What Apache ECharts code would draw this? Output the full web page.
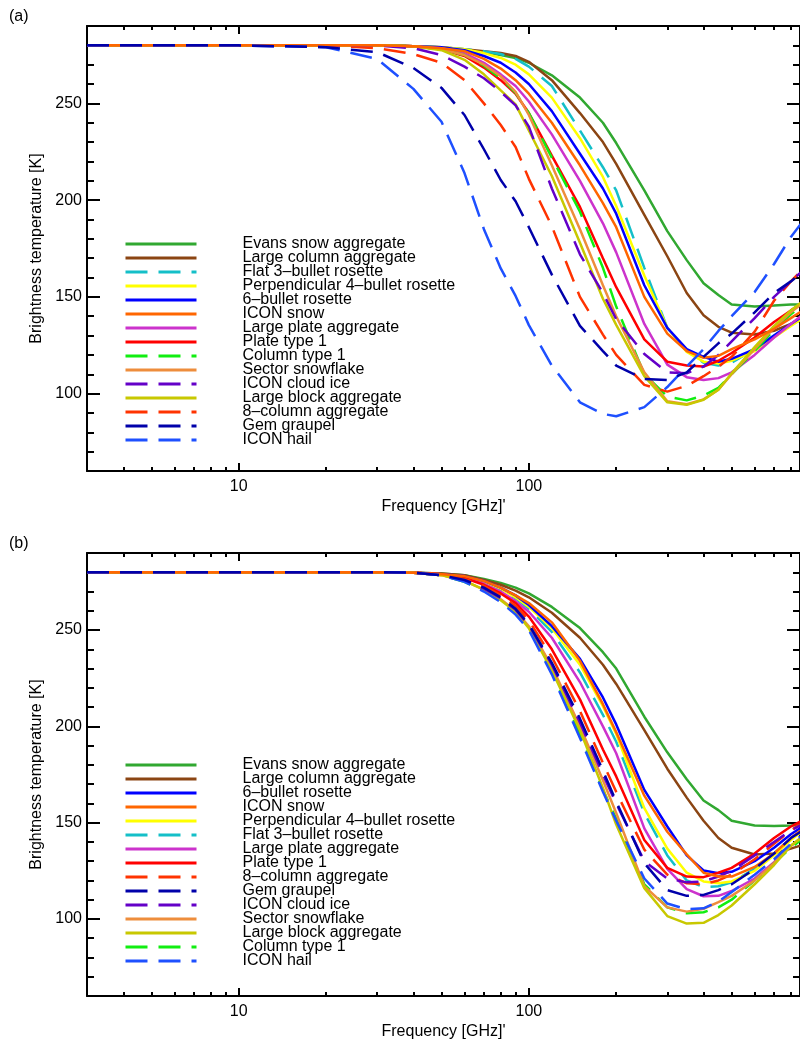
<!DOCTYPE html>
<html>
<head>
<meta charset="utf-8">
<script src="https://cdn.jsdelivr.net/npm/echarts@6/dist/echarts.min.js"></script>
<style>html,body{margin:0;padding:0;background:#fff}#c{width:800px;height:1045px}</style>
</head>
<body>
<div id="c"></div>
<script>
// ---- data ----
const freq = [3, 10, 20, 30, 40, 50, 60, 70, 80, 90, 100, 120, 150, 180, 200, 250, 300, 350, 400, 450, 500, 600, 700, 800, 900];

// panel (a)
const a_evans       = [280,280,280,280,279.5,279,277.5,276.5,275,273.5,271,264.5,253,240,229.5,205,184,169,157,151,146,145,145.5,146,146];
const a_largeColumn = [280,280,280,280,279.5,279,278,277,276,274.5,271.5,262,245,230,218.7,192.4,171,152,140.5,134.5,131.5,130.5,132.5,136,139];
const a_flat3       = [280,280,280,280,279.5,279,278,277,275.5,273,269,259,236,217,205,165,134,122,116,114.5,116,123,130,136,141];
const a_perp4       = [280,280,280,280,279.5,279,278,276,273.5,270,265,253,232,212,197,161,134,121.5,116.5,115.5,117,122,129,135,140];
const a_bullet6     = [280,280,280,280,279.5,279,277.5,274.5,271,266,260,246,224,206,193,156,134,123,119,116.5,118,123,130,136,141];
const a_iconSnow    = [280,280,280,280,279.5,278.5,277,273,268,262,255,240,218,198.5,186,150,131,122,118.5,119.5,123,128,133.5,139,144];
const a_largePlate  = [280,280,280,280,279.5,278.5,276,271,265,259,251,234,210,188,173,136,115,108.5,107,108,111,120,129,136,142];
const a_plate1      = [280,280,280,280,279.5,278,274.5,268.5,262,255,245,223,196.5,170,155,128,116.5,114.5,114,117,121,129,137,143,148];
const a_column1     = [280,280,280,280,279.5,278,275,269.5,263,255.5,245,222,194,165,145,110,98.5,96.5,99,103,110,122,133,141,147];
const a_sector      = [280,280,280,280,279.5,278,275,270,264,256,244,218,185,156,140,111,96,94.5,97,102,110,123,134,142,148];
const a_largeBlock  = [280,280,280,280,279.5,277.5,272.5,265,256.7,249.5,236,212.5,178,149,135.5,109,95.5,94.2,96.8,102,110.5,124,135,143,149];
const a_cloudIce    = [280,280,280,280,278.5,275,269,263,256,249,238,206,172,152,138.5,120.5,111,110.5,114,120,127,139,150,158,165];
const a_col8        = [280,280,280,278.5,275.5,271,262,250,238.8,227.5,211,186.5,150,130.5,120,104.5,101,104,109,114,119,132,148,158,166];
const a_graupel     = [280,280,279,276.5,268.3,258,244,226.3,210.4,199.4,186,161.5,135,122,114.5,107.5,107,111,119,126,131,142,152,158,164];
const a_hail        = [280,280,279,273,257.5,240.5,214,185,164.7,150.5,135.4,114.5,95.5,89.5,88.3,93,103.4,114,123,132.4,140,152.5,167,181,191];

// panel (b)
const b_evans       = [280,280,280,280,279.8,279.3,278.5,276.5,274.5,272,269,262,251,238.5,230,205,186.5,172.5,161.5,156.5,151,148.5,148.2,148.5,149];
const b_largeColumn = [280,280,280,280,279.8,279.3,278.5,276,273.5,270.5,267,259,246,232,222,198,178,163,151,142,137,133.5,134,136.5,139];
const b_bullet6     = [280,280,280,280,279.8,279,278,275.5,272,268,263,252,235,215,201,167,148,133,125.2,123.8,124.5,130,137,144,149];
const b_iconSnow    = [280,280,280,280,279.8,279,278,275.5,272,268,264,254,234,211.5,197,164,145.3,133.5,124,122,122,127,134,142,148];
const b_perp4       = [280,280,280,280,279.8,279,277.5,275,271.5,267,262,251,232,210.5,196,157.5,136.5,124,119.5,118.5,119.5,125,133,141,147];
const b_flat3       = [280,280,280,280,279.8,279,277.5,274.5,271,266.5,261,249,228,206,192,155,133,120,116.5,117,119,126,134,142,147];
const b_largePlate  = [280,280,280,280,279.8,279,277,274,270,265,259.5,246,223,200,186,147,126,115.5,111.8,112,114.5,121,129.5,138,143];
const b_plate1      = [280,280,280,280,279.8,279,277,273.5,269,264,257,240,214,188,174,141,126.5,122,121.7,124,126.5,134,142,148,152];
const b_col8        = [280,280,280,280,279.8,279,276.5,273,268,262.5,255,236,208,181,166,136,123,118.5,118,120,123,131,139,146,151];
const b_graupel     = [280,280,280,280,279.8,278.5,276,272,267,261,253,233,204,177,161,129,115,112,112.5,115,118,126,134,142,147];
const b_cloudIce    = [280,280,280,280,279.8,278.5,275.5,271.5,266.5,260.5,252.5,232,202,175,160,130,121,119,119.5,122,125,133,140,146,150];
const b_sector      = [280,280,280,280,279.8,278.5,275.5,271,266,260,252,231,200,172,155,117,106,103.8,105.3,108.7,112,120,129,138,144];
const b_largeBlock  = [280,280,280,280,279.8,278.5,275.5,271,265.5,259.5,251,229,198,168,149,116,101.5,97.6,98,102,107,118,128,138,144];
const b_column1     = [280,280,280,280,279.8,278.5,275,270.5,265,259,251,228,196,167,152,118,106,103,103.5,106,110,120,129,137,143];
const b_hail        = [280,280,280,280,279.8,278.5,275,270,264.5,258,250,227,194,166,151,121,108,105,105.5,109,114,123,131,139,145];

// names
const N_EVANS = 'Evans snow aggregate', N_LCOL = 'Large column aggregate', N_FLAT3 = 'Flat 3\u2013bullet rosette',
      N_PERP4 = 'Perpendicular 4\u2013bullet rosette', N_B6 = '6\u2013bullet rosette', N_ISNOW = 'ICON snow',
      N_LPLATE = 'Large plate aggregate', N_PLATE1 = 'Plate type 1', N_COL1 = 'Column type 1',
      N_SECTOR = 'Sector snowflake', N_ICE = 'ICON cloud ice', N_LBLOCK = 'Large block aggregate',
      N_COL8 = '8\u2013column aggregate', N_GRAUPEL = 'Gem graupel', N_HAIL = 'ICON hail';

const legendA = [N_EVANS, N_LCOL, N_FLAT3, N_PERP4, N_B6, N_ISNOW, N_LPLATE, N_PLATE1, N_COL1, N_SECTOR, N_ICE, N_LBLOCK, N_COL8, N_GRAUPEL, N_HAIL];
const legendB = [N_EVANS, N_LCOL, N_B6, N_ISNOW, N_PERP4, N_FLAT3, N_LPLATE, N_PLATE1, N_COL8, N_GRAUPEL, N_ICE, N_SECTOR, N_LBLOCK, N_COL1, N_HAIL];

// ticks
const xMajorTicks = [10, 100];
const xMinorTicks = [4, 5, 6, 7, 8, 9, 20, 30, 40, 50, 60, 70, 80, 90, 200, 300, 400, 500, 600, 700, 800];
const yMajorTicks = [100, 150, 200, 250];
const yMinorTicks = [70, 80, 90, 110, 120, 130, 140, 160, 170, 180, 190, 210, 220, 230, 240, 260, 270, 280];

// ---- styling / layout ----
const FONT = '"Liberation Sans", Arial, Helvetica, sans-serif';
const DASH = [22, 11];
const X_MIN = 3, X_MAX = 860, Y_MIN = 60, Y_MAX = 290;

// drawing order
const defs = [
  {name: N_EVANS,   color: '#31a831', dashed: false, a: a_evans,       b: b_evans},
  {name: N_LCOL,    color: '#8b4513', dashed: false, a: a_largeColumn, b: b_largeColumn},
  {name: N_FLAT3,   color: '#14bfc8', dashed: true,  a: a_flat3,       b: b_flat3},
  {name: N_PERP4,   color: '#ffff00', dashed: false, a: a_perp4,       b: b_perp4},
  {name: N_B6,      color: '#0000ff', dashed: false, a: a_bullet6,     b: b_bullet6},
  {name: N_LPLATE,  color: '#cc33cc', dashed: false, a: a_largePlate,  b: b_largePlate},
  {name: N_PLATE1,  color: '#ff0000', dashed: false, a: a_plate1,      b: b_plate1},
  {name: N_COL1,    color: '#11ee11', dashed: true,  a: a_column1,     b: b_column1},
  {name: N_SECTOR,  color: '#ee8d3c', dashed: false, a: a_sector,      b: b_sector},
  {name: N_LBLOCK,  color: '#c8c800', dashed: false, a: a_largeBlock,  b: b_largeBlock},
  {name: N_COL8,    color: '#ff3300', dashed: true,  a: a_col8,        b: b_col8},
  {name: N_ICE,     color: '#6400c8', dashed: true,  a: a_cloudIce,    b: b_cloudIce},
  {name: N_ISNOW,   color: '#ff6600', dashed: false, a: a_iconSnow,    b: b_iconSnow},
  {name: N_HAIL,    color: '#1e50ff', dashed: true,  a: a_hail,        b: b_hail},
  {name: N_GRAUPEL, color: '#0000aa', dashed: true,  a: a_graupel,     b: b_graupel}
];

const grids = [
  {left: 87, top: 26, width: 718, height: 445},
  {left: 87, top: 553, width: 718, height: 443}
];

const black = {color: '#000', width: 2};
function xAxesFor(gi) {
  const c = {gridIndex: gi, type: 'log', logBase: 10, min: X_MIN, max: X_MAX, splitLine: {show: false}, silent: true};
  return [
    Object.assign({}, c, {position: 'bottom',
      axisLine: {show: true, onZero: false, lineStyle: black},
      axisTick: {show: true, inside: true, length: 8, customValues: xMajorTicks, lineStyle: black},
      axisLabel: {show: true, customValues: xMajorTicks, margin: 8, fontSize: 16, color: '#000', fontFamily: FONT},
      name: "Frequency [GHz]'", nameLocation: 'middle', nameGap: 28,
      nameTextStyle: {fontSize: 16, color: '#000', fontFamily: FONT}}),
    Object.assign({}, c, {position: 'bottom', axisLine: {show: false},
      axisTick: {show: true, inside: true, length: 4, customValues: xMinorTicks, lineStyle: black},
      axisLabel: {show: false}}),
    Object.assign({}, c, {position: 'top',
      axisLine: {show: true, onZero: false, lineStyle: black},
      axisTick: {show: true, inside: true, length: 8, customValues: xMajorTicks, lineStyle: black},
      axisLabel: {show: false}}),
    Object.assign({}, c, {position: 'top', axisLine: {show: false},
      axisTick: {show: true, inside: true, length: 4, customValues: xMinorTicks, lineStyle: black},
      axisLabel: {show: false}})
  ];
}
function yAxesFor(gi) {
  const c = {gridIndex: gi, type: 'value', min: Y_MIN, max: Y_MAX, splitLine: {show: false}, silent: true};
  return [
    Object.assign({}, c, {position: 'left',
      axisLine: {show: true, onZero: false, lineStyle: black},
      axisTick: {show: true, inside: true, length: 13, customValues: yMajorTicks, lineStyle: black},
      axisLabel: {show: true, customValues: yMajorTicks, margin: 5, fontSize: 16, color: '#000', fontFamily: FONT},
      name: 'Brightness temperature [K]', nameLocation: 'middle', nameGap: 42,
      nameTextStyle: {fontSize: 16, color: '#000', fontFamily: FONT}}),
    Object.assign({}, c, {position: 'left', axisLine: {show: false},
      axisTick: {show: true, inside: true, length: 7, customValues: yMinorTicks, lineStyle: black},
      axisLabel: {show: false}}),
    Object.assign({}, c, {position: 'right',
      axisLine: {show: true, onZero: false, lineStyle: black},
      axisTick: {show: true, inside: true, length: 13, customValues: yMajorTicks, lineStyle: black},
      axisLabel: {show: false}}),
    Object.assign({}, c, {position: 'right', axisLine: {show: false},
      axisTick: {show: true, inside: true, length: 7, customValues: yMinorTicks, lineStyle: black},
      axisLabel: {show: false}})
  ];
}

const series = [];
[0, 1].forEach(gi => {
  defs.forEach(d => {
    const vals = gi === 0 ? d.a : d.b;
    series.push({
      type: 'line', name: d.name, xAxisIndex: gi * 4, yAxisIndex: gi * 4,
      data: freq.map((f, i) => [f, vals[i]]),
      symbol: 'none', showSymbol: false, smooth: false, clip: true, silent: true,
      color: d.color,
      itemStyle: {color: d.color},
      lineStyle: {color: d.color, width: 2.5, type: d.dashed ? DASH : 'solid'}
    });
  });
});

function legendFor(top, names) {
  return {
    orient: 'vertical', left: 124, top: top, padding: 0,
    itemWidth: 71, itemHeight: 14, itemGap: -2,
    selectedMode: false,
    itemStyle: {opacity: 0},
    lineStyle: {width: 3},
    textStyle: {fontSize: 16, color: '#000', fontFamily: FONT, lineHeight: 7, padding: [0, 0, 7, 41]},
    data: names
  };
}

const chart = echarts.init(document.getElementById('c'), null, {renderer: 'canvas'});
chart.setOption({
  animation: false,
  backgroundColor: '#fff',
  title: [
    {text: '(a)', left: 4, top: 4, padding: 5, textStyle: {fontSize: 16, fontWeight: 'normal', color: '#000', fontFamily: FONT}},
    {text: '(b)', left: 4, top: 531, padding: 5, textStyle: {fontSize: 16, fontWeight: 'normal', color: '#000', fontFamily: FONT}}
  ],
  grid: grids,
  xAxis: xAxesFor(0).concat(xAxesFor(1)),
  yAxis: yAxesFor(0).concat(yAxesFor(1)),
  legend: [legendFor(236, legendA), legendFor(757, legendB)],
  series: series
});
</script>
</body>
</html>
